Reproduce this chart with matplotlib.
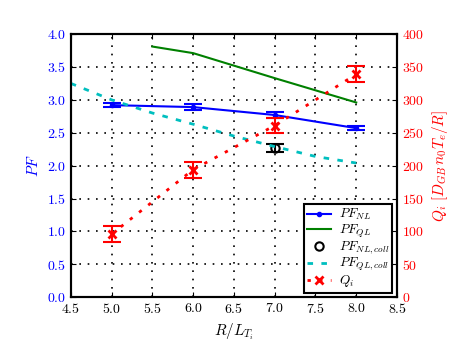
import numpy as np
import matplotlib
matplotlib.use('Agg')
import matplotlib.pyplot as plt

plt.rcParams['font.family'] = 'serif'
plt.rcParams['font.serif'] = ['cmr10', 'DejaVu Serif']
plt.rcParams['mathtext.fontset'] = 'cm'
plt.rcParams['axes.formatter.use_mathtext'] = True
plt.rcParams['xtick.direction'] = 'in'
plt.rcParams['ytick.direction'] = 'in'
plt.rcParams['xtick.top'] = True

# gradient values R/L_Ti
x_nl = [5.0, 6.0, 7.0, 8.0]
pf_nl = [2.92, 2.89, 2.77, 2.57]
pf_nl_err = [0.033, 0.04, 0.045, 0.03]

x_ql = [5.5, 6.0, 7.0, 8.0]
pf_ql = [3.81, 3.71, 3.33, 2.96]

x_nl_coll = [7.0]
pf_nl_coll = [2.27]
pf_nl_coll_err = [0.06]

x_ql_coll = [4.5, 5.0, 5.5, 6.0, 6.5, 7.0, 7.5, 8.0]
pf_ql_coll = [3.25, 3.0, 2.80, 2.63, 2.45, 2.29, 2.14, 2.04]

x_q = [5.0, 6.0, 7.0, 8.0]
q_i = [96, 194, 261, 339]
q_i_err = [12.5, 12, 12, 12.5]

fig = plt.figure(figsize=(4.66, 3.51), dpi=100)
ax = fig.add_axes([0.152, 0.153, 0.7, 0.75])
ax2 = ax.twinx()

ax.errorbar(x_nl, pf_nl, yerr=pf_nl_err, fmt='none', ecolor='b', elinewidth=1.5, capsize=6.8, capthick=1.5)
ax.plot(x_nl, pf_nl, 'b.-', lw=1.5, ms=6, label='$PF_{NL}$')
ax.plot(x_ql, pf_ql, 'g-', lw=1.5, label='$PF_{QL}$')
ax.errorbar(x_nl_coll, pf_nl_coll, yerr=pf_nl_coll_err, fmt='none', ecolor='k', elinewidth=1.5, capsize=6.8, capthick=1.5)
ax.plot(x_nl_coll, pf_nl_coll, 'o', mfc='none', mec='k', mew=1.5, ms=6, label='$PF_{NL,coll}$')
ax.plot(x_ql_coll, pf_ql_coll, color='c', ls=(0, (2, 3)), lw=2, label='$PF_{QL,coll}$')

ax2.errorbar(x_q, q_i, yerr=q_i_err, fmt='none', ecolor='r', elinewidth=1.5, capsize=6.8, capthick=1.5)
ax2.plot(x_q, q_i, 'rx', ls=(0, (1.2, 3)), lw=2, ms=5.5, mew=2, label='$Q_i$')

ax.set_xlim(4.5, 8.5)
ax.set_ylim(0, 4)
ax2.set_ylim(0, 400)
ax.set_xticks(np.arange(4.5, 8.51, 0.5))
ax.set_yticks(np.arange(0, 4.01, 0.5))
ax2.set_yticks(np.arange(0, 401, 50))
ax.grid(True, color='k', ls=(0, (1, 4)), lw=1.2)

ax.set_xlabel('$R/L_{T_i}$', fontsize=11)
ax.set_ylabel('$PF$', color='b', fontsize=11)
ax2.set_ylabel('$Q_i\\ [D_{GB}\\, n_0 T_e/R]$', color='r', fontsize=11)
ax.tick_params(axis='y', colors='b', labelsize=10)
ax.tick_params(axis='x', labelsize=10)
ax2.tick_params(axis='y', colors='r', labelsize=10)
ax.tick_params(axis='y', color='k')
ax2.tick_params(axis='y', color='k')
for s in ax.spines.values():
    s.set_linewidth(1.5)
for s in ax2.spines.values():
    s.set_linewidth(1.5)

h1, l1 = ax.get_legend_handles_labels()
h2, l2 = ax2.get_legend_handles_labels()
leg = ax2.legend(h1 + h2, l1 + l2, loc='lower right', fontsize=9.5, numpoints=1,
                 fancybox=False, framealpha=1, edgecolor='k', borderaxespad=0.35,
                 handlelength=1.8, labelspacing=0.0, handletextpad=0.6,
                 borderpad=0.25)
leg.get_frame().set_linewidth(1.5)

fig.savefig('out.png', dpi=100, facecolor='white')
